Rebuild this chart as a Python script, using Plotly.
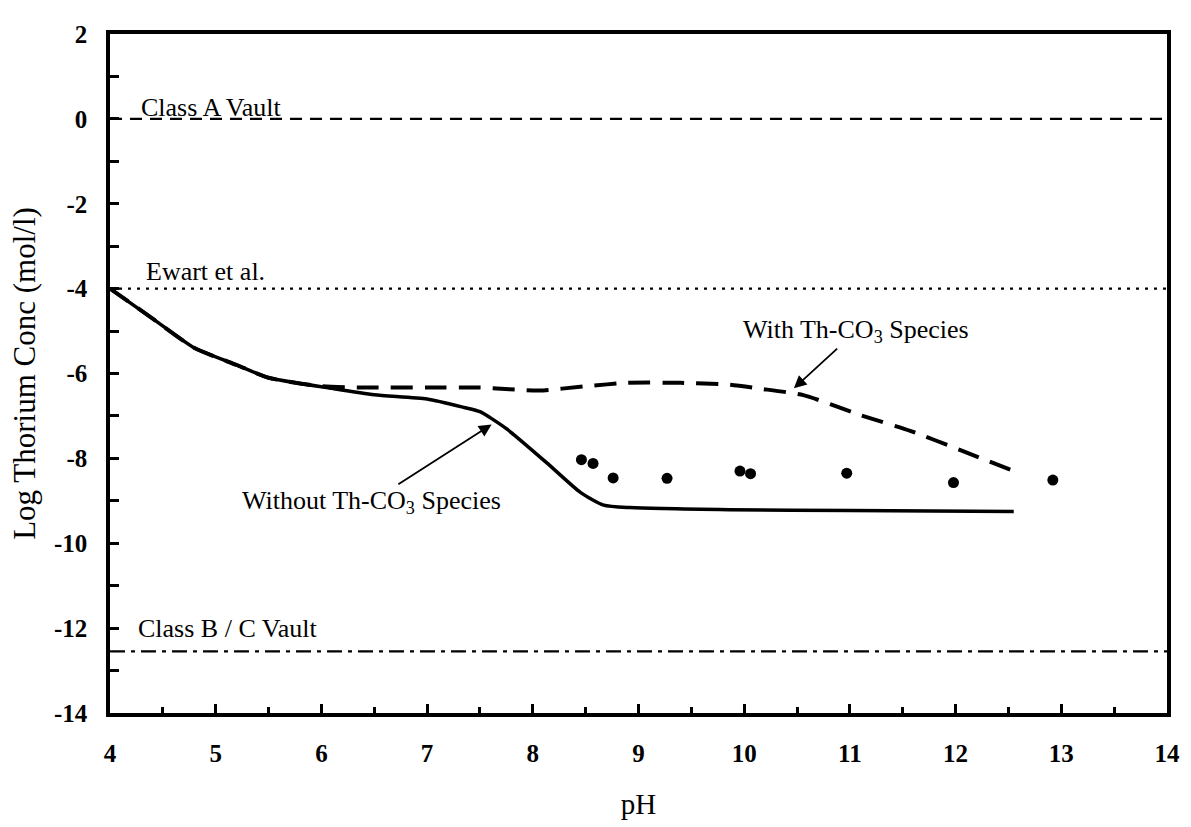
import plotly.graph_objects as go

# pH grid and log thorium concentration (mol/l)
ph_without = [4.0, 4.4, 4.8, 5.2, 5.5, 6.1, 6.5, 7.0, 7.35, 7.5, 7.75, 8.13, 8.45, 8.67, 8.92, 9.86, 11.0, 12.55]
log_without = [-4.0, -4.7, -5.4, -5.8, -6.1, -6.35, -6.5, -6.6, -6.8, -6.9, -7.3, -8.1, -8.8, -9.1, -9.16, -9.21, -9.23, -9.25]

ph_with = [4.0, 4.4, 4.8, 5.2, 5.5, 6.0, 6.4, 7.0, 7.5, 8.06, 8.5, 8.9, 9.4, 9.84, 10.16, 10.56, 11.1, 11.57, 12.04, 12.55]
log_with = [-4.0, -4.7, -5.4, -5.8, -6.1, -6.3, -6.33, -6.33, -6.33, -6.4, -6.3, -6.22, -6.22, -6.26, -6.36, -6.51, -6.98, -7.35, -7.8, -8.3]

ph_measured = [8.46, 8.57, 8.76, 9.27, 9.96, 10.06, 10.97, 11.98, 12.92]
log_measured = [-8.03, -8.12, -8.46, -8.47, -8.30, -8.36, -8.35, -8.57, -8.51]

# horizontal reference limits
limit_names = ["Class A Vault", "Ewart et al.", "Class B / C Vault"]
limit_values = [0.0, -4.0, -12.55]
limit_dashes = ["12px,8px", "3px,6px", "15px,6px,4px,6px"]

x_range = [4, 14]
x_ticks = [4, 5, 6, 7, 8, 9, 10, 11, 12, 13, 14]
y_ticks = [2, 0, -2, -4, -6, -8, -10, -12, -14]
y_ticktext = ["2", "0", "-2", "-4", "-6", "-8", "-10", "-12", "-14"]

SERIF = "Liberation Serif, Times New Roman, serif"

fig = go.Figure()

for name, val, dash in zip(limit_names, limit_values, limit_dashes):
    fig.add_trace(go.Scatter(
        x=x_range, y=[val, val], mode="lines",
        line=dict(color="black", width=2.2, dash=dash),
        name=name, hoverinfo="skip",
    ))

fig.add_trace(go.Scatter(
    x=ph_with, y=log_with, mode="lines",
    line=dict(color="black", width=4, dash="22px,12px", shape="spline", smoothing=0.6),
    name="With Th-CO3 Species",
))
fig.add_trace(go.Scatter(
    x=ph_without, y=log_without, mode="lines",
    line=dict(color="black", width=3.5, shape="spline", smoothing=0.6),
    name="Without Th-CO3 Species",
))
fig.add_trace(go.Scatter(
    x=ph_measured, y=log_measured, mode="markers",
    marker=dict(color="black", size=11),
    name="Measured",
))

label_font = dict(family=SERIF, size=26, color="black")

# labels for the reference limits
label_pos = [(4.27, 0.27), (4.32, -3.6), (4.25, -12.0)]
for name, (lx, ly) in zip(limit_names, label_pos):
    fig.add_annotation(x=lx, y=ly, text=name, showarrow=False,
                       xanchor="left", yanchor="middle", font=label_font)

# curve labels, each with an arrow pointing at its curve
fig.add_annotation(x=10.47, y=-6.35, ax=11.06, ay=-5.0, axref="x", ayref="y",
                   text="With Th-CO<sub>3</sub> Species", font=label_font,
                   showarrow=True, arrowhead=2, arrowsize=1.4,
                   arrowwidth=1.8, arrowcolor="black")
fig.add_annotation(x=7.61, y=-7.2, ax=6.47, ay=-9.02, axref="x", ayref="y",
                   text="Without Th-CO<sub>3</sub> Species", font=label_font,
                   showarrow=True, arrowhead=2, arrowsize=1.4,
                   arrowwidth=1.8, arrowcolor="black")

fig.update_layout(
    width=1191, height=827,
    margin=dict(l=110, r=11, t=34, b=105),
    paper_bgcolor="white", plot_bgcolor="white",
    showlegend=False,
    font=dict(family=SERIF, color="black"),
    xaxis=dict(
        range=x_range, tickvals=x_ticks, ticktext=[str(t) for t in x_ticks],
        showgrid=False, zeroline=False,
        showline=True, linecolor="black", linewidth=3.5, mirror=True,
        ticks="inside", ticklen=9, tickwidth=2.5, tickcolor="black",
        minor=dict(ticks="inside", dtick=0.5, ticklen=6, tickwidth=2.5, tickcolor="black"),
        tickfont=dict(family=SERIF, size=25, color="black", weight="bold"),
        ticklabelstandoff=15, ticklabeloverflow="allow",
        title=dict(text="pH", font=dict(family=SERIF, size=29, color="black"), standoff=29),
    ),
    yaxis=dict(
        range=[-14, 2], tickvals=y_ticks, ticktext=y_ticktext,
        showgrid=False, zeroline=False,
        showline=True, linecolor="black", linewidth=3.5, mirror=True,
        ticks="inside", ticklen=9, tickwidth=2.5, tickcolor="black",
        minor=dict(ticks="inside", dtick=1, ticklen=9, tickwidth=2.5, tickcolor="black"),
        tickfont=dict(family=SERIF, size=25, color="black", weight="bold"),
        ticklabelstandoff=14,
        title=dict(text="Log Thorium Conc (mol/l)", font=dict(family=SERIF, size=31, color="black"), standoff=10),
    ),
)

fig.write_html("out.html")
